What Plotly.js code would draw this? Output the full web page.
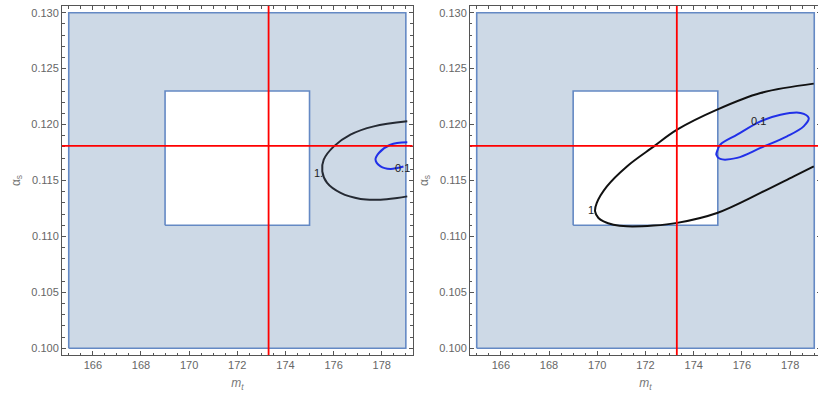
<!DOCTYPE html>
<html><head><meta charset="utf-8">
<script src="https://cdn.plot.ly/plotly-3.0.1.min.js"></script>
<style>html,body{margin:0;padding:0;overflow:hidden;background:#fff}#chart{width:822px;height:393px}</style>
</head><body><div id="chart"></div><script>
// allowed region (shaded) and inner box
const regionX = [165, 179, 179, 165, 165];
const regionY = [0.100, 0.100, 0.130, 0.130, 0.100];
const boxX = [169, 175, 175, 169, 169];
const boxY = [0.111, 0.111, 0.123, 0.123, 0.111];
// reference point (red cross)
const refMt = 173.3;
const refAs = 0.1181;
// left panel contours
const leftOneX = [179.06, 177.67, 176.70, 176.01, 175.59, 175.53, 175.73, 176.29, 177.12, 177.95, 178.64, 179.06];
const leftOneY = [0.12029, 0.11984, 0.11910, 0.11805, 0.11686, 0.11582, 0.11478, 0.11389, 0.11335, 0.11329, 0.11344, 0.11358];
const leftTenthX = [179.06, 178.36, 177.88, 177.74, 177.95, 178.36, 178.64, 178.90];
const leftTenthY = [0.11841, 0.11820, 0.11746, 0.11686, 0.11626, 0.11603, 0.11612, 0.11625];
// right panel contours
const rightOneX = [178.98, 176.77, 174.97, 173.31, 172.35, 171.23, 170.40, 169.98, 169.91, 170.05, 170.26, 170.67, 171.23, 172.33, 173.31, 174.97, 176.77, 178.15, 178.98];
const rightOneY = [0.12366, 0.12282, 0.12133, 0.11954, 0.11805, 0.11626, 0.11447, 0.11299, 0.11224, 0.11165, 0.11135, 0.11105, 0.11090, 0.11097, 0.11121, 0.11210, 0.11389, 0.11537, 0.11626];
const rightTenthX = [174.97, 175.10, 175.80, 176.77, 177.60, 178.43, 178.77, 178.56, 177.87, 176.77, 175.80, 175.10, 174.94, 174.97];
const rightTenthY = [0.11761, 0.11820, 0.11910, 0.12029, 0.12088, 0.12104, 0.12059, 0.11984, 0.11895, 0.11791, 0.11702, 0.11693, 0.11731, 0.11761];
// contour labels
const labelText = ['1.', '0.1', '1.', '0.1'];
const labelX = [175.37, 178.85, 169.80, 176.68];
const labelY = [0.1157, 0.11612, 0.1124, 0.12029];
const labelAxis = ['', '', '2', '2'];

const fillCol = '#cdd9e6', edgeCol = '#6489c4';
const traces = [];
['', '2'].forEach(s => {
  const xa = 'x' + s, ya = 'y' + s;
  traces.push({x: regionX, y: regionY, xaxis: xa, yaxis: ya, mode: 'lines', fill: 'toself', fillcolor: fillCol, line: {color: edgeCol, width: 1.6}, hoverinfo: 'skip'});
  traces.push({x: boxX, y: boxY, xaxis: xa, yaxis: ya, mode: 'lines', fill: 'toself', fillcolor: '#ffffff', line: {color: edgeCol, width: 1.6}, hoverinfo: 'skip'});
});
traces.push({x: leftOneX, y: leftOneY, xaxis: 'x', yaxis: 'y', mode: 'lines', line: {color: '#252a33', width: 2, shape: 'spline'}});
traces.push({x: leftTenthX, y: leftTenthY, xaxis: 'x', yaxis: 'y', mode: 'lines', line: {color: '#2130e8', width: 2, shape: 'spline'}});
traces.push({x: rightOneX, y: rightOneY, xaxis: 'x2', yaxis: 'y2', mode: 'lines', line: {color: '#111111', width: 2, shape: 'spline'}});
traces.push({x: rightTenthX, y: rightTenthY, xaxis: 'x2', yaxis: 'y2', mode: 'lines', line: {color: '#2130e8', width: 2, shape: 'spline'}});

const shapes = [];
['', '2'].forEach(s => {
  shapes.push({type: 'line', xref: 'x' + s, yref: 'y' + s + ' domain', x0: refMt, x1: refMt, y0: 0, y1: 1, line: {color: '#ff0000', width: 1.8}, layer: 'above'});
  shapes.push({type: 'line', xref: 'x' + s + ' domain', yref: 'y' + s, x0: 0, x1: 1, y0: refAs, y1: refAs, line: {color: '#ff0000', width: 1.8}, layer: 'above'});
});

const annotations = labelText.map((t, i) => ({
  text: t, x: labelX[i], y: labelY[i], xref: 'x' + labelAxis[i], yref: 'y' + labelAxis[i],
  showarrow: false, font: {family: 'Liberation Sans, Arial, sans-serif', size: 11, color: '#222'}
}));

const tickFont = {family: 'Liberation Sans, Arial, sans-serif', size: 11, color: '#666'};
function xAxis(domain, anchor) {
  return {domain: domain, anchor: anchor, range: [164.72, 179.28], dtick: 2, tick0: 166,
    ticks: 'inside', ticklen: 4, tickcolor: '#555', showline: true, linecolor: '#555', linewidth: 1, mirror: 'ticks',
    showgrid: false, zeroline: false, tickfont: tickFont,
    minor: {dtick: 0.5, ticks: 'inside', ticklen: 2.5, tickcolor: '#555', showgrid: false},
    title: {text: '<i>m</i><sub><i>t</i></sub>', font: {family: 'Liberation Sans, Arial, sans-serif', size: 12, color: '#777'}, standoff: 8},
    automargin: false};
}
function yAxis(anchor) {
  return {domain: [0, 1], anchor: anchor, range: [0.0994, 0.1306], dtick: 0.005, tick0: 0.1, tickformat: '.3f',
    ticks: 'inside', ticklen: 4, tickcolor: '#555', showline: true, linecolor: '#555', linewidth: 1, mirror: 'ticks',
    showgrid: false, zeroline: false, tickfont: tickFont,
    minor: {dtick: 0.001, ticks: 'inside', ticklen: 2.5, tickcolor: '#555', showgrid: false},
    title: {text: 'α<sub>s</sub>', font: {family: 'Liberation Sans, Arial, sans-serif', size: 12, color: '#777'}, standoff: 8},
    automargin: false};
}
const layout = {
  width: 822, height: 393, margin: {l: 62, r: 1, t: 6, b: 38},
  paper_bgcolor: '#fff', plot_bgcolor: '#fff', showlegend: false,
  xaxis: xAxis([0, 0.4619], 'y'), yaxis: yAxis('x'),
  xaxis2: xAxis([0.5375, 1], 'y2'), yaxis2: yAxis('x2'),
  shapes: shapes, annotations: annotations
};
Plotly.newPlot('chart', traces, layout, {staticPlot: true, displayModeBar: false});
</script></body></html>
